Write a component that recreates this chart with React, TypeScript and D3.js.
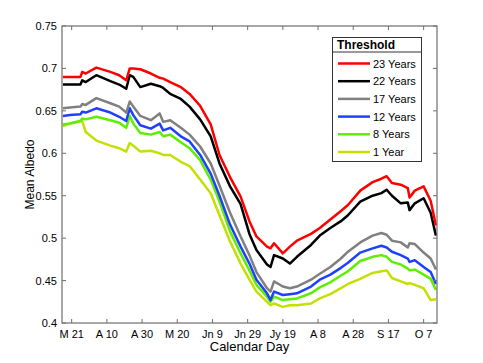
import { useEffect, useRef } from 'react';
import * as d3 from 'd3';

// day of year for each sample
const days = [75, 79, 85, 86, 88, 94, 102, 107, 111, 113, 115, 119, 125, 130, 132, 136, 142, 147, 153, 159, 164, 170, 176, 181, 185, 191, 193, 195, 200, 204, 208, 216, 221, 227, 233, 237, 244, 251, 256, 259, 262, 267, 271, 272, 275, 280, 284, 287];

const y23 = [0.690, 0.690, 0.690, 0.696, 0.694, 0.701, 0.696, 0.692, 0.686, 0.700, 0.700, 0.699, 0.694, 0.689, 0.688, 0.684, 0.678, 0.670, 0.656, 0.634, 0.598, 0.572, 0.549, 0.520, 0.502, 0.490, 0.488, 0.494, 0.482, 0.490, 0.497, 0.505, 0.512, 0.522, 0.532, 0.539, 0.556, 0.566, 0.570, 0.573, 0.565, 0.563, 0.559, 0.548, 0.556, 0.561, 0.544, 0.515];
const y22 = [0.681, 0.681, 0.681, 0.686, 0.684, 0.692, 0.685, 0.681, 0.676, 0.692, 0.690, 0.678, 0.682, 0.679, 0.677, 0.670, 0.664, 0.655, 0.640, 0.620, 0.588, 0.561, 0.540, 0.505, 0.486, 0.469, 0.466, 0.480, 0.476, 0.470, 0.478, 0.492, 0.503, 0.512, 0.520, 0.527, 0.543, 0.550, 0.553, 0.557, 0.550, 0.541, 0.542, 0.533, 0.541, 0.547, 0.530, 0.503];
const y17 = [0.653, 0.654, 0.655, 0.658, 0.657, 0.665, 0.659, 0.655, 0.648, 0.661, 0.655, 0.644, 0.639, 0.647, 0.637, 0.639, 0.630, 0.622, 0.608, 0.588, 0.562, 0.530, 0.502, 0.480, 0.460, 0.441, 0.437, 0.449, 0.443, 0.441, 0.443, 0.451, 0.458, 0.466, 0.476, 0.484, 0.495, 0.503, 0.506, 0.504, 0.497, 0.495, 0.489, 0.494, 0.493, 0.483, 0.476, 0.463];
const y12 = [0.644, 0.645, 0.646, 0.649, 0.648, 0.653, 0.648, 0.643, 0.638, 0.653, 0.645, 0.633, 0.629, 0.635, 0.627, 0.630, 0.620, 0.614, 0.598, 0.576, 0.550, 0.516, 0.490, 0.470, 0.451, 0.435, 0.427, 0.437, 0.433, 0.434, 0.435, 0.443, 0.451, 0.457, 0.465, 0.471, 0.483, 0.488, 0.491, 0.489, 0.484, 0.480, 0.476, 0.472, 0.474, 0.466, 0.460, 0.446];
const y8 = [0.634, 0.635, 0.638, 0.641, 0.640, 0.643, 0.639, 0.636, 0.630, 0.644, 0.635, 0.624, 0.622, 0.625, 0.620, 0.622, 0.613, 0.606, 0.592, 0.569, 0.543, 0.508, 0.482, 0.462, 0.445, 0.431, 0.425, 0.431, 0.427, 0.428, 0.429, 0.435, 0.442, 0.448, 0.456, 0.461, 0.473, 0.478, 0.480, 0.478, 0.472, 0.469, 0.464, 0.462, 0.463, 0.457, 0.452, 0.439];
const y1 = [0.632, 0.635, 0.638, 0.638, 0.625, 0.615, 0.609, 0.606, 0.602, 0.612, 0.609, 0.602, 0.603, 0.600, 0.598, 0.598, 0.590, 0.585, 0.569, 0.553, 0.527, 0.496, 0.470, 0.451, 0.437, 0.425, 0.421, 0.423, 0.419, 0.421, 0.421, 0.423, 0.429, 0.434, 0.441, 0.446, 0.452, 0.459, 0.461, 0.462, 0.453, 0.449, 0.446, 0.447, 0.445, 0.441, 0.427, 0.428];

const seriesNames = ['23 Years', '22 Years', '17 Years', '12 Years', '8 Years', '1 Year'];
const seriesValues = [y23, y22, y17, y12, y8, y1];
const seriesColors = ['#ff0000', '#000000', '#808080', '#2040ff', '#5cf000', '#c4e000'];

const xTickDays = [80, 100, 120, 140, 160, 180, 200, 220, 240, 260, 280];
const xTickLabels = ['M 21', 'A 10', 'A 30', 'M 20', 'Jn 9', 'Jn 29', 'Jy 19', 'A 8', 'A 28', 'S 17', 'O 7'];
const yTicks = [0.4, 0.45, 0.5, 0.55, 0.6, 0.65, 0.7, 0.75];

function App() {
  const ref = useRef<SVGSVGElement>(null);

  useEffect(() => {
    const svg = d3.select(ref.current);
    svg.selectAll('*').remove();

    const m = { left: 62, right: 437, top: 26, bottom: 323 };
    const font = 'Liberation Sans, Arial, sans-serif';
    const axisColor = '#6e6e6e';

    const x = d3.scaleLinear().domain([74.5, 287.6]).range([m.left, m.right]);
    const y = d3.scaleLinear().domain([0.4, 0.75]).range([m.bottom, m.top]);

    const line = d3.line<number>()
      .x((_, i) => x(days[i]))
      .y(d => y(d));

    // draw back to front so red ends on top
    seriesValues.slice().reverse().forEach((vals, ri) => {
      const i = seriesValues.length - 1 - ri;
      svg.append('path')
        .attr('d', line(vals))
        .attr('fill', 'none')
        .attr('stroke', seriesColors[i])
        .attr('stroke-width', 2.5)
        .attr('stroke-linejoin', 'round');
    });

    // box
    svg.append('rect')
      .attr('x', m.left).attr('y', m.top)
      .attr('width', m.right - m.left).attr('height', m.bottom - m.top)
      .attr('fill', 'none').attr('stroke', axisColor).attr('stroke-width', 1.2);

    const tl = 4;
    xTickDays.forEach((d, i) => {
      const px = x(d);
      svg.append('line').attr('x1', px).attr('x2', px).attr('y1', m.bottom).attr('y2', m.bottom - tl).attr('stroke', axisColor);
      svg.append('line').attr('x1', px).attr('x2', px).attr('y1', m.top).attr('y2', m.top + tl).attr('stroke', axisColor);
      svg.append('text')
        .attr('x', px).attr('y', m.bottom + 15)
        .attr('text-anchor', 'middle')
        .attr('font-family', font).attr('font-size', 11)
        .text(xTickLabels[i]);
    });

    yTicks.forEach(v => {
      const py = y(v);
      svg.append('line').attr('x1', m.left).attr('x2', m.left + tl).attr('y1', py).attr('y2', py).attr('stroke', axisColor);
      svg.append('line').attr('x1', m.right).attr('x2', m.right - tl).attr('y1', py).attr('y2', py).attr('stroke', axisColor);
      svg.append('text')
        .attr('x', m.left - 5).attr('y', py + 4)
        .attr('text-anchor', 'end')
        .attr('font-family', font).attr('font-size', 11)
        .text(String(v));
    });

    svg.append('text')
      .attr('x', (m.left + m.right) / 2).attr('y', 351)
      .attr('text-anchor', 'middle')
      .attr('font-family', font).attr('font-size', 13)
      .text('Calendar Day');

    svg.append('text')
      .attr('transform', `translate(34, ${(m.top + m.bottom) / 2}) rotate(-90)`)
      .attr('text-anchor', 'middle')
      .attr('font-family', font).attr('font-size', 12)
      .text('Mean Albedo');

    // legend
    const lg = svg.append('g');
    lg.append('rect')
      .attr('x', 332.5).attr('y', 37.5).attr('width', 89).attr('height', 124)
      .attr('fill', '#fff').attr('stroke', '#333').attr('stroke-width', 1);
    lg.append('line')
      .attr('x1', 332.5).attr('x2', 421.5).attr('y1', 52).attr('y2', 52)
      .attr('stroke', '#333');
    lg.append('text')
      .attr('x', 337).attr('y', 49)
      .attr('font-family', font).attr('font-size', 12).attr('font-weight', 'bold')
      .text('Threshold');
    seriesNames.forEach((name, i) => {
      const ly = 63.5 + i * 17.7;
      lg.append('line')
        .attr('x1', 338).attr('x2', 370).attr('y1', ly).attr('y2', ly)
        .attr('stroke', seriesColors[i]).attr('stroke-width', 2.5);
      lg.append('text')
        .attr('x', 373).attr('y', ly + 4)
        .attr('font-family', font).attr('font-size', 11)
        .text(name);
    });
  }, []);

  return (
    <svg ref={ref} width={483} height={363} style={{ position: 'absolute', left: 0, top: 0, background: '#fff' }} />
  );
}

export default App;
